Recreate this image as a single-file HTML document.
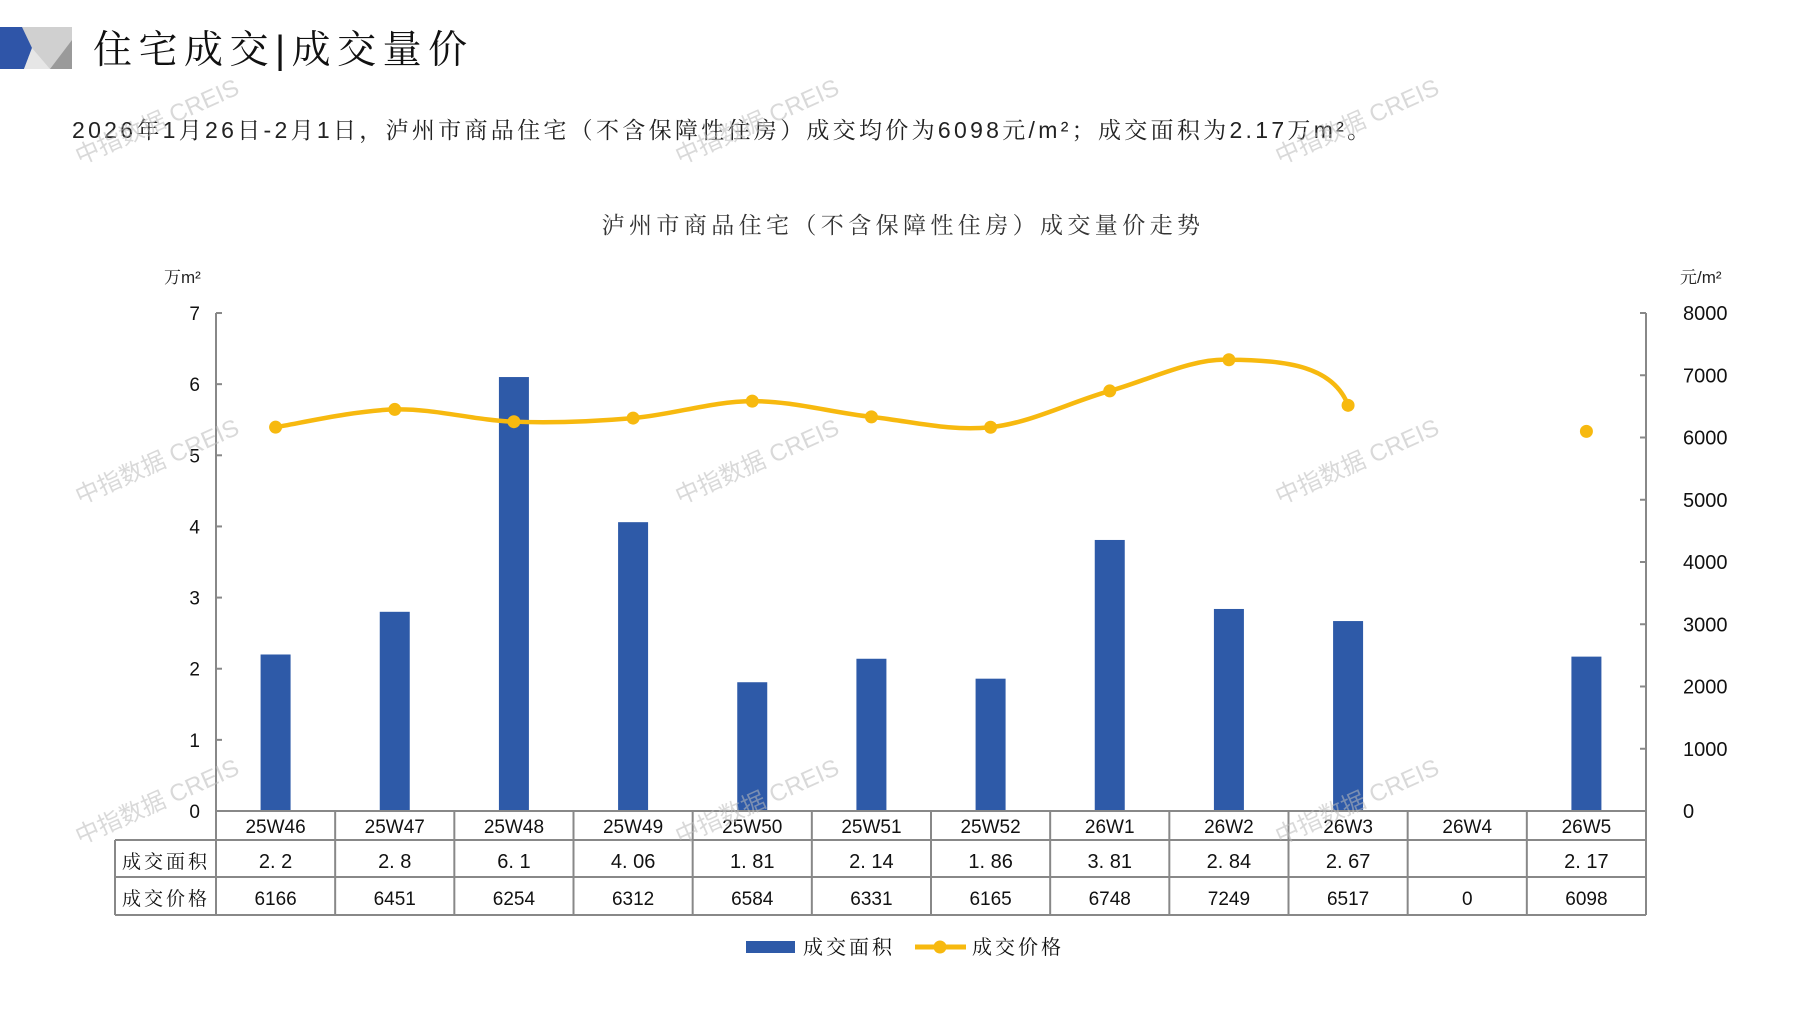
<!DOCTYPE html>
<html><head><meta charset="utf-8">
<style>
html,body{margin:0;padding:0;background:#fff;}
body{width:1797px;height:1010px;overflow:hidden;position:relative;}
svg{position:absolute;left:0;top:0;}
.cjk{font-family:"Liberation Sans","Noto Serif CJK SC","Noto Sans CJK SC",serif;}
.num{font-family:"Liberation Sans","Noto Sans CJK SC",sans-serif;}
</style></head>
<body>
<svg width="1797" height="1010" viewBox="0 0 1797 1010" xmlns="http://www.w3.org/2000/svg">
<rect x="0" y="27" width="72" height="42" fill="#d0d0d0"/>
<polygon points="0,27 22,27 32,48 24,69 0,69" fill="#2f55a8"/>
<polygon points="72,40 72,69 50,69" fill="#9a9a9a"/>
<polygon points="32,48 50,69 24,69" fill="#e6e6e6"/>
<text x="93" y="63" class="cjk" font-size="39" letter-spacing="6.5" fill="#111">住宅成交|成交量价</text>
<text x="72" y="138" class="cjk" font-size="23" letter-spacing="3.3" fill="#222">2026年1月26日-2月1日，泸州市商品住宅（不含保障性住房）成交均价为6098元/m²；成交面积为2.17万m²。</text>
<text x="903" y="233" text-anchor="middle" class="cjk" font-size="23" letter-spacing="4.4" fill="#333">泸州市商品住宅（不含保障性住房）成交量价走势</text>
<text x="164" y="283" class="cjk" font-size="17" fill="#222">万m²</text>
<text x="1680" y="283" class="cjk" font-size="17" fill="#222">元/m²</text>
<g id="g"></g>
</svg>
<script>
const g=document.getElementById('g');let s='';
const L=216,R=1646,Y0=811,U=71.14,cw=(R-L)/12;
const cats=['25W46','25W47','25W48','25W49','25W50','25W51','25W52','26W1','26W2','26W3','26W4','26W5'];
const area=[2.2,2.8,6.1,4.06,1.81,2.14,1.86,3.81,2.84,2.67,null,2.17];
const areaT=['2. 2','2. 8','6. 1','4. 06','1. 81','2. 14','1. 86','3. 81','2. 84','2. 67','','2. 17'];
const price=[6166,6451,6254,6312,6584,6331,6165,6748,7249,6517,0,6098];
const cx=i=>L+cw*(i+0.5), py=v=>Y0-v*0.06225;
s+=`<line x1="${L}" y1="313" x2="${L}" y2="${Y0}" stroke="#888" stroke-width="2"/>`;
s+=`<line x1="${R}" y1="313" x2="${R}" y2="${Y0}" stroke="#888" stroke-width="2"/>`;
for(let k=0;k<=7;k++){const y=Y0-k*U;s+=`<line x1="${L}" y1="${y}" x2="${L+6}" y2="${y}" stroke="#888" stroke-width="2"/><text x="200" y="${y+7}" text-anchor="end" class="num" font-size="19" fill="#111">${k}</text>`;}
for(let k=0;k<=8;k++){const y=Y0-k*62.25;s+=`<line x1="${R-6}" y1="${y}" x2="${R}" y2="${y}" stroke="#888" stroke-width="2"/><text x="1683" y="${y+7}" class="num" font-size="20" fill="#111">${k*1000}</text>`;}
area.forEach((v,i)=>{if(v==null)return;const h=v*U;s+=`<rect x="${cx(i)-15}" y="${Y0-h}" width="30" height="${h}" fill="#2e5aa8"/>`;});
const P=[];for(let i=0;i<10;i++)P.push([cx(i),py(price[i])]);
let d=`M${P[0][0]},${P[0][1]}`;const t=0.17;
for(let i=0;i<P.length-1;i++){const p0=P[Math.max(0,i-1)],p1=P[i],p2=P[i+1],p3=P[Math.min(P.length-1,i+2)];
let c1=[p1[0]+(p2[0]-p0[0])*t,p1[1]+(p2[1]-p0[1])*t], c2=[p2[0]-(p3[0]-p1[0])*t,p2[1]-(p3[1]-p1[1])*t];
if(i==7){c2=[p2[0]-0.3*cw,p2[1]-2];}
if(i==8){c1=[p1[0]+0.5*cw,p1[1]];c2=[p2[0]-0.12*cw,p2[1]-38];}
d+=` C${c1[0]},${c1[1]} ${c2[0]},${c2[1]} ${p2[0]},${p2[1]}`;}
s+=`<path d="${d}" fill="none" stroke="#f7b90f" stroke-width="4.5"/>`;
P.forEach(p=>s+=`<circle cx="${p[0]}" cy="${p[1]}" r="6.5" fill="#f7b90f"/>`);
s+=`<circle cx="${cx(11)}" cy="${py(6098)}" r="6.5" fill="#f7b90f"/>`;
const st='stroke="#888" stroke-width="2"';
s+=`<line x1="${L}" y1="${Y0}" x2="${R}" y2="${Y0}" ${st}/>`;
[840,877,915].forEach(y=>s+=`<line x1="115" y1="${y}" x2="${R}" y2="${y}" ${st}/>`);
s+=`<line x1="115" y1="840" x2="115" y2="915" ${st}/>`;
for(let i=0;i<=12;i++){const x=L+cw*i;s+=`<line x1="${x}" y1="${Y0}" x2="${x}" y2="915" ${st}/>`;}
s+=`<text x="166" y="868" text-anchor="middle" class="cjk" font-size="19" letter-spacing="3" fill="#111">成交面积</text>`;
s+=`<text x="166" y="905" text-anchor="middle" class="cjk" font-size="19" letter-spacing="3" fill="#111">成交价格</text>`;
cats.forEach((c,i)=>{s+=`<text x="${cx(i)}" y="833" text-anchor="middle" class="num" font-size="19" fill="#111">${c}</text>`;
s+=`<text x="${cx(i)}" y="868" text-anchor="middle" class="num" font-size="20" fill="#111">${areaT[i]}</text>`;
s+=`<text x="${cx(i)}" y="905" text-anchor="middle" class="num" font-size="19" fill="#111">${price[i]}</text>`;});
s+=`<rect x="746" y="941" width="49" height="12" fill="#2e5aa8"/><text x="803" y="954" class="cjk" font-size="20" letter-spacing="3" fill="#111">成交面积</text>`;
s+=`<line x1="915" y1="947" x2="966" y2="947" stroke="#f7b90f" stroke-width="5"/><circle cx="940" cy="947" r="6.5" fill="#f7b90f"/><text x="972" y="954" class="cjk" font-size="20" letter-spacing="3" fill="#111">成交价格</text>`;
[[80,165],[680,165],[1280,165],[80,505],[680,505],[1280,505],[80,845],[680,845],[1280,845]].forEach(p=>{
s+=`<text x="${p[0]}" y="${p[1]}" transform="rotate(-24 ${p[0]} ${p[1]})" font-family="Liberation Sans,Noto Sans CJK SC,sans-serif" font-size="24" fill="#bbb" opacity="0.55">中指数据 CREIS</text>`;});
g.innerHTML=s;
</script>
</body></html>
